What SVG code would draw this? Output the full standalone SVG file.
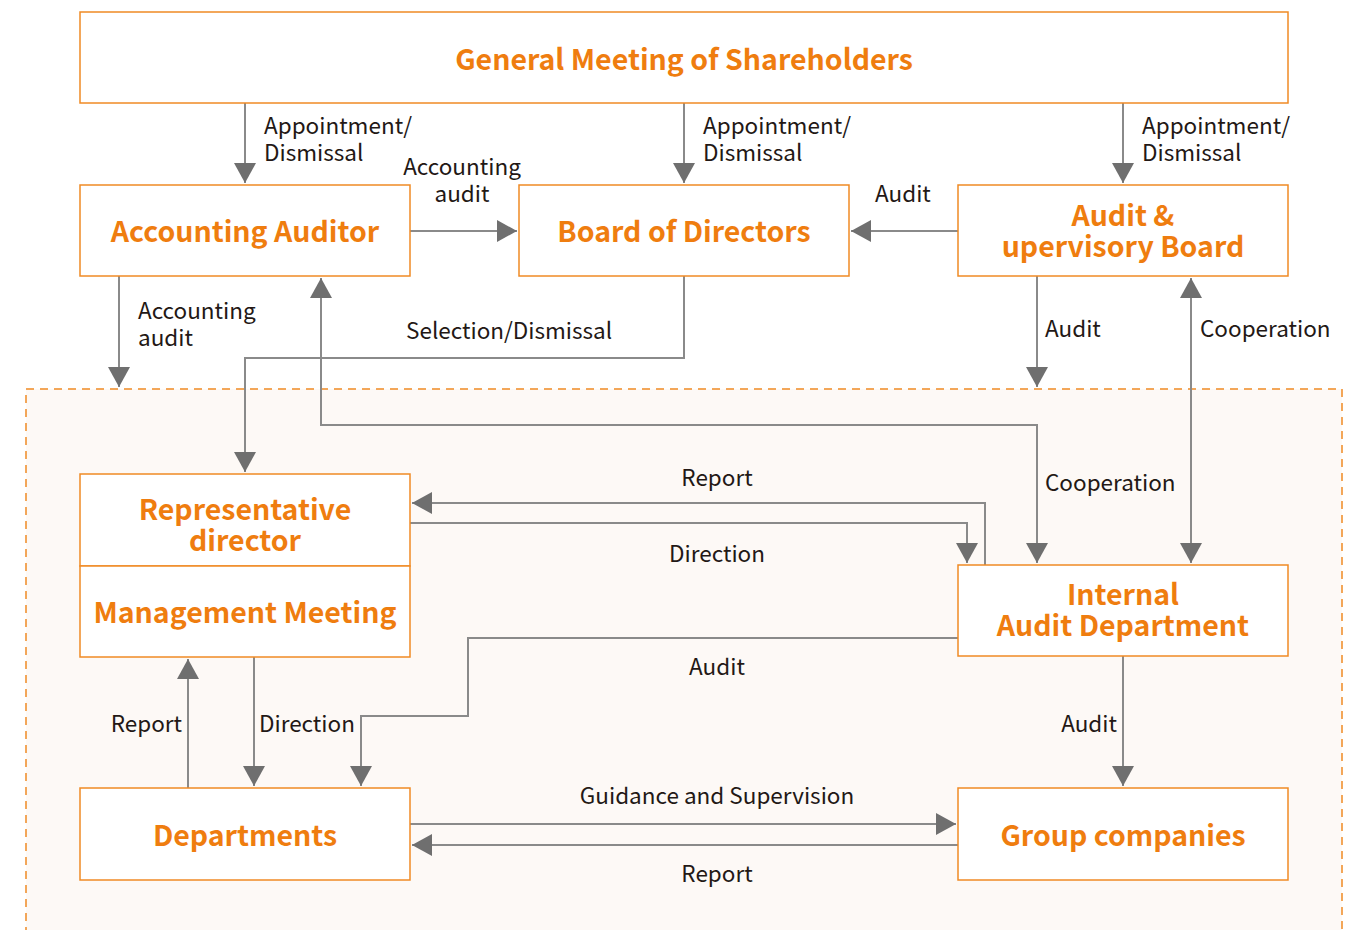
<svg xmlns="http://www.w3.org/2000/svg" width="1351" height="930" viewBox="0 0 1351 930">
<style>
.box{fill:#ffffff;stroke:#f08a24;stroke-width:1.5}
.nt{font-family:"Noto Sans CJK JP","Noto Sans",sans-serif;font-weight:bold;font-size:28.5px;fill:#ef7d0f;text-anchor:middle}
.lb{font-family:"Noto Sans CJK JP","Noto Sans",sans-serif;font-size:22.5px;fill:#231815}
.c{fill:none;stroke:#8a8a8a;stroke-width:2}
</style>
<defs>
<marker id="ah" viewBox="0 0 20 22" refX="20" refY="11" markerWidth="20" markerHeight="22" markerUnits="userSpaceOnUse" orient="auto-start-reverse">
<path d="M0,0 L20,11 L0,22 z" fill="#6f6f6f"/>
</marker>
</defs>
<rect x="0" y="0" width="1351" height="930" fill="#ffffff"/>
<rect id="region" x="26" y="389" width="1316" height="560" fill="#fdf9f6" stroke="#f08a24" stroke-width="1.5" stroke-dasharray="8,6"/>

<g id="connectors">
<path class="c" d="M245,103 V183" marker-end="url(#ah)"/>
<path class="c" d="M684,103 V183" marker-end="url(#ah)"/>
<path class="c" d="M1123,103 V183" marker-end="url(#ah)"/>
<path class="c" d="M410,231 H517" marker-end="url(#ah)"/>
<path class="c" d="M958,231 H851" marker-end="url(#ah)"/>
<path class="c" d="M119,276 V387" marker-end="url(#ah)"/>
<path class="c" d="M1037,276 V387" marker-end="url(#ah)"/>
<path class="c" d="M1191,278 V563" marker-start="url(#ah)" marker-end="url(#ah)"/>
<path class="c" d="M321,278 V425 H1037 V563" marker-start="url(#ah)" marker-end="url(#ah)"/>
<path class="c" d="M684,276 V358 H245 V472" marker-end="url(#ah)"/>
<path class="c" d="M985,565 V503 H412" marker-end="url(#ah)"/>
<path class="c" d="M410,523 H967 V563" marker-end="url(#ah)"/>
<path class="c" d="M958,638 H468 V716 H361 V786" marker-end="url(#ah)"/>
<path class="c" d="M188,788 V659" marker-end="url(#ah)"/>
<path class="c" d="M254,657 V786" marker-end="url(#ah)"/>
<path class="c" d="M410,824 H956" marker-end="url(#ah)"/>
<path class="c" d="M958,845 H412" marker-end="url(#ah)"/>
<path class="c" d="M1123,656 V786" marker-end="url(#ah)"/>
</g>

<g id="connector-labels">
<text class="lb" x="264" y="134">Appointment/<tspan x="264" y="161">Dismissal</tspan></text>
<text class="lb" x="703" y="134">Appointment/<tspan x="703" y="161">Dismissal</tspan></text>
<text class="lb" x="1142" y="134">Appointment/<tspan x="1142" y="161">Dismissal</tspan></text>
<text class="lb" x="462" y="175" text-anchor="middle">Accounting<tspan x="462" y="202">audit</tspan></text>
<text class="lb" x="875" y="202">Audit</text>
<text class="lb" x="138" y="319">Accounting<tspan x="138" y="346">audit</tspan></text>
<text class="lb" x="406" y="339">Selection/Dismissal</text>
<text class="lb" x="1045" y="337">Audit</text>
<text class="lb" x="1200" y="337">Cooperation</text>
<text class="lb" x="1045" y="491">Cooperation</text>
<text class="lb" x="717" y="486" text-anchor="middle">Report</text>
<text class="lb" x="717" y="562" text-anchor="middle">Direction</text>
<text class="lb" x="717" y="675" text-anchor="middle">Audit</text>
<text class="lb" x="182" y="732" text-anchor="end">Report</text>
<text class="lb" x="259" y="732">Direction</text>
<text class="lb" x="1117" y="732" text-anchor="end">Audit</text>
<text class="lb" x="717" y="804" text-anchor="middle">Guidance and Supervision</text>
<text class="lb" x="717" y="882" text-anchor="middle">Report</text>
</g>

<g id="gms">
<rect class="box" x="80" y="12" width="1208" height="91"/>
<text class="nt" x="684" y="70">General Meeting of Shareholders</text>
</g>
<g id="accounting-auditor">
<rect class="box" x="80" y="185" width="330" height="91"/>
<text class="nt" x="245" y="242">Accounting Auditor</text>
</g>
<g id="board">
<rect class="box" x="519" y="185" width="330" height="91"/>
<text class="nt" x="684" y="242">Board of Directors</text>
</g>
<g id="asb">
<rect class="box" x="958" y="185" width="330" height="91"/>
<text class="nt" x="1123" y="226">Audit &amp;<tspan x="1123" y="257">upervisory Board</tspan></text>
</g>
<g id="rep-director">
<rect class="box" x="80" y="474" width="330" height="92"/>
<text class="nt" x="245" y="520">Representative<tspan x="245" y="551">director</tspan></text>
</g>
<g id="management-meeting">
<rect class="box" x="80" y="566" width="330" height="91"/>
<text class="nt" x="245" y="623">Management Meeting</text>
</g>
<g id="internal-audit">
<rect class="box" x="958" y="565" width="330" height="91"/>
<text class="nt" x="1123" y="605">Internal<tspan x="1123" y="636">Audit Department</tspan></text>
</g>
<g id="departments">
<rect class="box" x="80" y="788" width="330" height="92"/>
<text class="nt" x="245" y="846">Departments</text>
</g>
<g id="group-companies">
<rect class="box" x="958" y="788" width="330" height="92"/>
<text class="nt" x="1123" y="846">Group companies</text>
</g>
</svg>
